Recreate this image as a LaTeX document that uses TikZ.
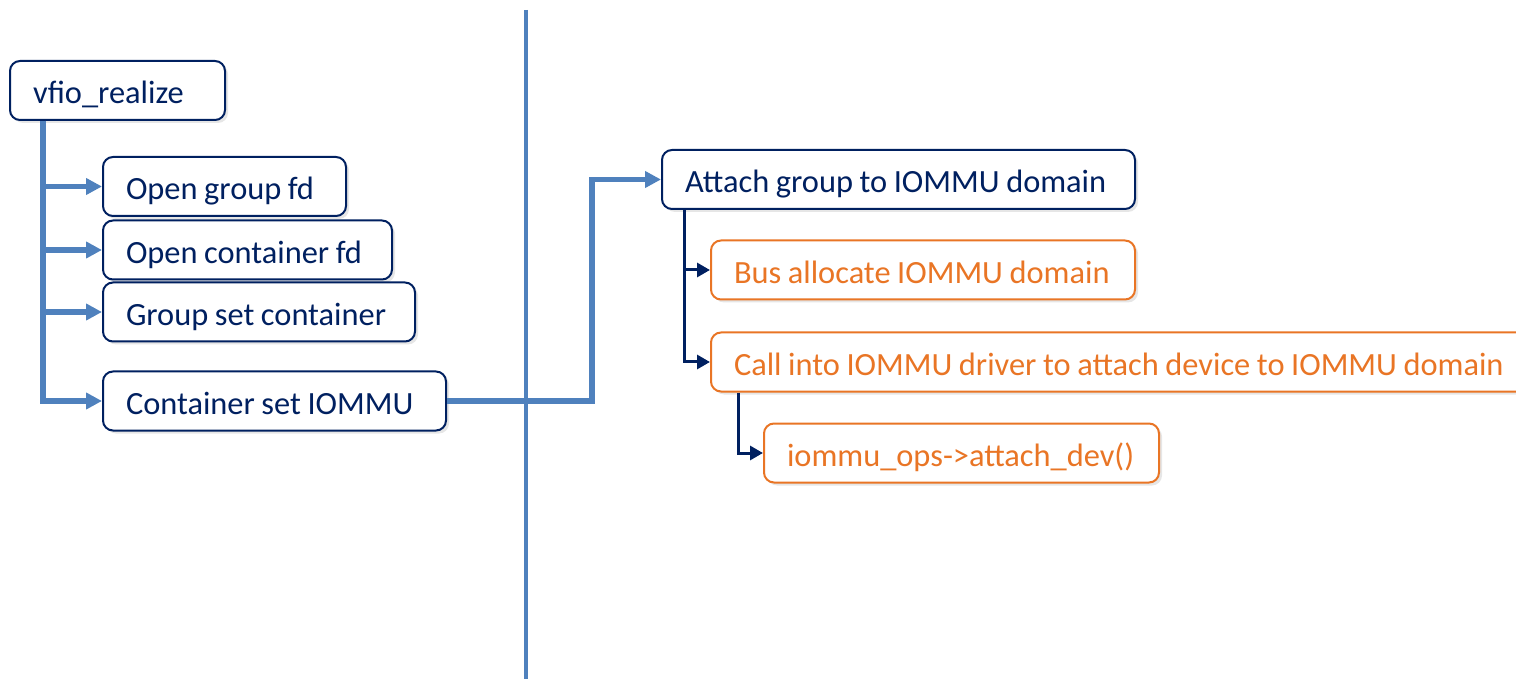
\documentclass[tikz,border=0pt]{standalone}
\usepackage{fontspec}
\setmainfont[WordSpace=0.9]{Carlito}
\usepackage{tikz}
\usetikzlibrary{arrows.meta,shadows}
\definecolor{DarkNavy}{HTML}{002060}
\definecolor{LinkBlue}{HTML}{4F81BD}
\definecolor{Orange}{HTML}{E97525}

\tikzset{
  callbox/.style={draw=DarkNavy, text=DarkNavy, fill=white, line width=1pt,
    rounded corners=5pt, anchor=west, minimum height=29.5pt,
    inner xsep=11.5pt, font=\fontsize{16.2}{19}\selectfont,
    text height=15pt, text depth=1.5pt,
    execute at begin node={\hbox to #1\bgroup},
    execute at end node={\hfil\egroup},
    drop shadow={opacity=0.2, shadow xshift=1.5pt, shadow yshift=-1.5pt}},
  kernbox/.style={callbox=#1, draw=Orange, text=Orange},
  bluelink/.style={LinkBlue, line width=2.8pt, -{Triangle[length=8pt,width=8pt]}},
  navylink/.style={DarkNavy, line width=1.5pt, -{Triangle[length=6.5pt,width=7pt]}}
}

\begin{document}
\begin{tikzpicture}[x=0.5pt, y=-0.5pt]
	\useasboundingbox (0,0) rectangle (1516,679);
	% user space
	\node[callbox=84.5pt] (realize) at (9,90.5) {vfio\_realize};
	\node[callbox=98.5pt] (groupfd) at (102,186.5) {Open group fd};
	\node[callbox=121.5pt] (contfd) at (102,250) {Open container fd};
	\node[callbox=133pt] (setcont) at (102,312) {Group set container};
	\node[callbox=148.5pt] (setiommu) at (102,401) {Container set IOMMU};
	% kernel space
	\node[callbox=213.5pt] (attach) at (661,179.5) {Attach group to IOMMU domain};
	\node[kernbox=189pt] (busalloc) at (710,270) {Bus allocate IOMMU domain};
	\node[kernbox=400pt] (driver) at (710,362) {Call into IOMMU driver to attach device to IOMMU domain};
	\node[kernbox=174.5pt] (attachdev) at (763,453) {iommu\_ops->attach\_dev()};
	% divider
	\draw[LinkBlue, line width=1.6pt] (526,10) -- (526,679);
	% links
	\coordinate (trunk) at ([xshift=17pt]realize.south west);
	\draw[bluelink] (trunk) |- (groupfd.west);
	\draw[bluelink] (trunk) |- (contfd.west);
	\draw[bluelink] (trunk) |- (setcont.west);
	\draw[bluelink] (trunk) |- (setiommu.west);
	\draw[bluelink] (setiommu.east) -- ++(72.5pt,0) |- (attach.west);
	\coordinate (atrunk) at ([xshift=11.5pt]attach.south west);
	\draw[navylink] (atrunk) |- (busalloc.west);
	\draw[navylink] (atrunk) |- (driver.west);
	\coordinate (dtrunk) at ([xshift=14pt]driver.south west);
	\draw[navylink] (dtrunk) |- (attachdev.west);
\end{tikzpicture}
\end{document}
